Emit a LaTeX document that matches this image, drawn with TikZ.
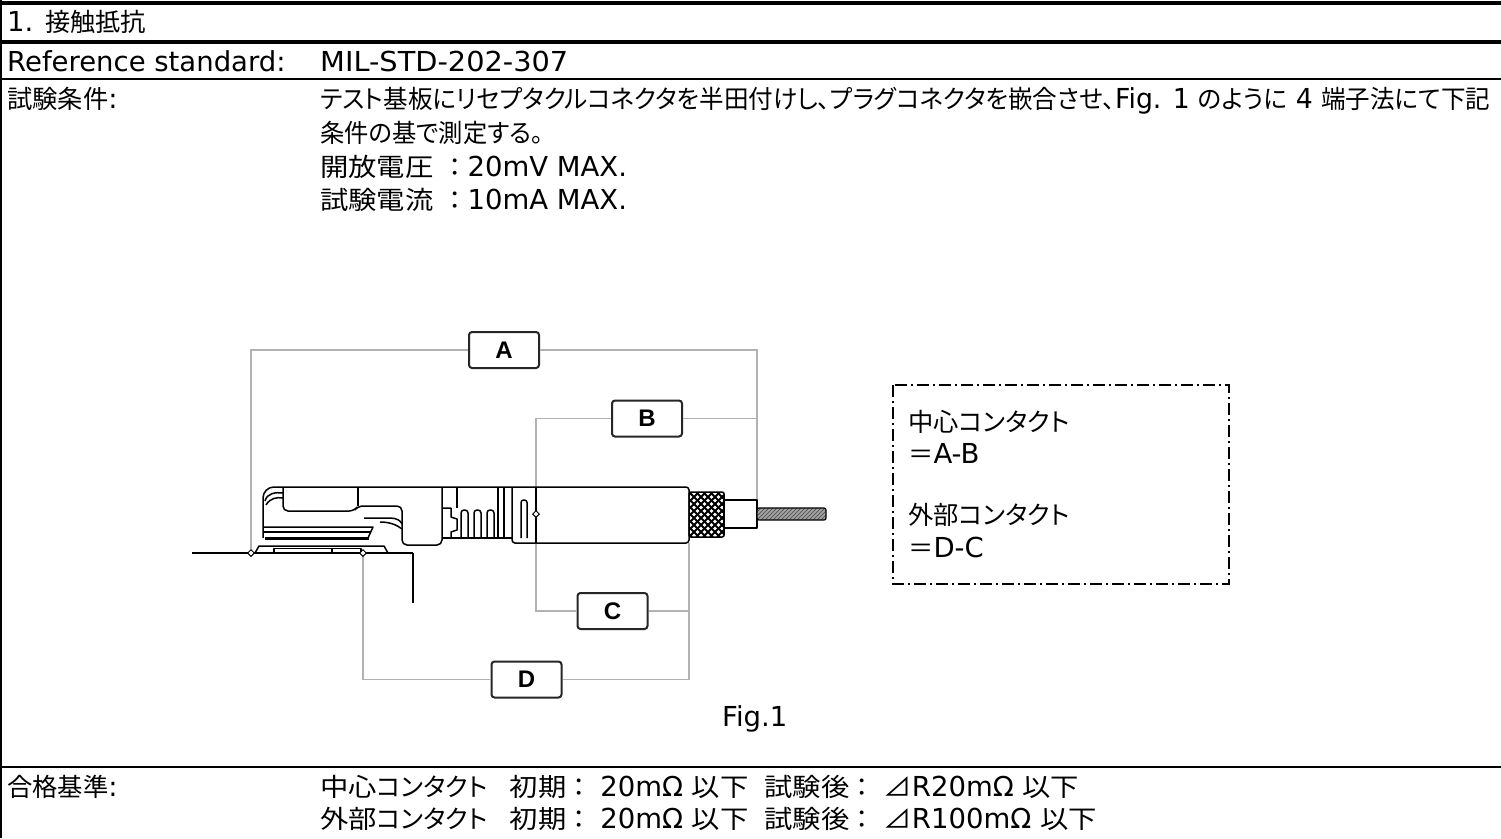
\documentclass[tikz,border=0pt]{standalone}
\usepackage{fontspec}
\usepackage{graphicx}
\usetikzlibrary{shapes.geometric}
\setmainfont{DejaVu Sans}
\newfontfamily\jp{Noto Sans CJK JP}[Scale=0.92,RawFeature=+palt]
\newfontfamily\jk{Noto Sans CJK JP}[Scale=0.92,FakeStretch=1.12]
\newfontfamily\jf{Noto Sans CJK JP}[Scale=0.92]
\newfontfamily\lab{Liberation Sans}
\newcommand{\fitto}[2]{\resizebox{#1}{\height}{#2}}
\begin{document}
\begin{tikzpicture}[x=1pt,y=-1pt,
  gline/.style={draw=black!30, line width=1.6pt},
  cline/.style={draw=black, line width=1.5pt, line join=round},
  mbox/.style={draw=black!85, line width=2pt, rounded corners=3pt, fill=white, minimum width=70pt, minimum height=36pt, inner sep=0pt, font=\lab\bfseries\fontsize{24}{24}\selectfont},
  txt/.style={anchor=base west, inner sep=0pt, font=\fontsize{27.5}{33}\selectfont},
  dmd/.style={diamond, draw=black, line width=1pt, fill=white, inner sep=0pt, minimum size=7pt},
  ddbox/.style={draw=black, line width=2pt, dash pattern=on 12pt off 4pt on 2pt off 4pt}
]
\useasboundingbox (0,0) rectangle (1501,838);
\fill[white] (0,0) rectangle (1501,838);

% table rules
\draw[line width=4pt] (0,3) -- (1501,3);
\draw[line width=4pt] (0,42) -- (1501,42);
\draw[line width=2.5pt] (0,79) -- (1501,79);
\draw[line width=2.5pt] (0,767) -- (1501,767);
\draw[line width=2pt] (1,0) -- (1,838);

% header rows
\node[txt] (title) at (7,31) {1. {\jp 接触抵抗}};
\node[txt] (refl) at (7,71) {Reference standard:};
\node[txt] (refv) at (320,71) {\fitto{248pt}{MIL-STD-202-307}};
\node[txt] (condl) at (7,108) {{\jp 試験条件}:};
\node[txt] (c1) at (320,108) {\fitto{1170pt}{{\jp テスト基板にリセプタクルコネクタを半田付けし、プラグコネクタを嵌合させ、}Fig. 1 {\jp のように} 4 {\jp 端子法にて下記}}};
\node[txt] (c2) at (320,142) {\fitto{223pt}{\jp 条件の基で測定する。}};
\node[txt] (c3) at (320,176) {{\jk 開放電圧} {\jf ：}20mV MAX.};
\node[txt] (c4) at (320,209) {{\jk 試験電流} {\jf ：}10mA MAX.};

% pass criteria
\node[txt] (passl) at (7,796) {{\jp 合格基準}:};
\node[txt] (p1) at (320,796) {{\jk 中心}{\jp コンタクト}\hspace{22pt}{\jk 初期}{\jf ：} 20mΩ {\jk 以下}\hspace{16pt}{\jk 試験後}{\jf ：} {\jk ⊿}R20mΩ {\jk 以下}};
\node[txt] (p2) at (320,828) {{\jk 外部}{\jp コンタクト}\hspace{22pt}{\jk 初期}{\jf ：} 20mΩ {\jk 以下}\hspace{16pt}{\jk 試験後}{\jf ：} {\jk ⊿}R100mΩ {\jk 以下}};

\node[txt] (fig) at (722,726) {Fig.1};

% legend box
\draw[ddbox] (893,385) rectangle (1229,584);
\node[txt] (l1) at (908,431) {{\jp 中心コンタクト}};
\node[txt] (l2) at (908,463) {{\jf ＝}A-B};
\node[txt] (l3) at (908,524) {{\jp 外部コンタクト}};
\node[txt] (l4) at (908,557) {{\jf ＝}D-C};

% meter boxes
\node[mbox] (A) at (504,350) {A};
\node[mbox] (B) at (647,418.5) {B};
\node[mbox] (C) at (612.5,611) {C};
\node[mbox] (D) at (526.5,679.5) {D};

\coordinate (pA) at (251,553);
\coordinate (pD) at (363,553);
\coordinate (pB) at (536,514);
\coordinate (jtop) at (757,500);
\coordinate (bodyBR) at (689,543);
\coordinate (cB) at (536,611);
\coordinate (dR) at (689,679.5);

% grey wiring
\draw[gline] (A.west) -| (pA);
\draw[gline] (A.east) -| (jtop);
\draw[gline] (B.east) -- (B.east -| jtop);
\draw[gline] (B.west) -| (cB) -- (C.west);
\draw[gline] (C.east) -- (C.east -| bodyBR);
\draw[gline] (bodyBR) -- (dR) -- (D.east);
\draw[gline] (D.west) -| (pD);

% board
\draw[cline] (192,553) -- (413,553);
\draw[line width=2pt] (413,553) -- (413,603);
% receptacle base
\draw[cline] (255,553) -- (259,546) -- (384,546) -- (388,553);
\draw[cline] (274,553) -- (274,548.5) -- (361,548.5) -- (361,553);
\draw[cline] (332,548.5) -- (332,553);
% gasket
\draw[cline] (263,527) -- (373,527) -- (368,538) -- (266,538);
\draw[cline] (263,532) -- (371,532);
\draw[line width=2.6pt] (265,538.5) -- (369,538.5);
% plug outline
\draw[cline] (263,538) [rounded corners=11pt] -- (263,487) [rounded corners=3pt] -- (689,487) -- (689,543) -- (512,543) -- (512,487);
% inner shape
\draw[cline, rounded corners=5pt] (283,487) -- (283,511) -- (354,511) -- (358,506) -- (402,506) -- (402,545) -- (442,545) -- (442,487);
\draw[cline] (358,487) -- (358,506);
\draw[cline] (265,501) .. controls (267,493) and (276,492) .. (283,493);
\draw[cline] (266,505) .. controls (270,498) and (277,497) .. (283,498);
\draw[cline] (364,518) -- (390,518) .. controls (397,518) and (401,521) .. (402,524);
\draw[cline] (380,522) .. controls (390,522) and (397,525) .. (402,529);
% spring fingers
\draw[cline] (442,538) -- (512,538);
\draw[cline] (442,508) -- (451,508) -- (451,517) -- (457,519) -- (457,530) -- (451,532) -- (451,538);
\draw[cline] (457,487) -- (457,508);
\foreach \fx in {461,474,487} \draw[cline, rounded corners=3pt] (\fx,538) -- (\fx,510) -- (\fx+7,510) -- (\fx+7,538);
\draw[cline] (498,487) -- (498,538);
\draw[cline] (504,487) -- (504,538);
\draw[cline, rounded corners=2.5pt] (521,538) -- (521,500) -- (527,500) -- (527,538);
\draw[cline] (536,487) -- (536,543);
% knurl
\begin{scope}
\clip (689,492) rectangle (724,537);
\foreach \k in {-49,-42,...,35} {
  \draw[line width=2pt] (689+\k,492) -- ++(45,45);
  \draw[line width=2pt] (689+\k,537) -- ++(45,-45);
}
\end{scope}
\draw[cline, rounded corners=2pt] (689,492) rectangle (724,537);
% jacket and cable
\draw[cline] (724,500) rectangle (757,528);
\fill[black!35] (757,508) rectangle (826,520);
\begin{scope}
\clip (757,508) rectangle (826,520);
\foreach \k in {-12,-8,...,72} \draw[black!65, line width=0.8pt] (757+\k,520) -- ++(12,-12);
\end{scope}
\draw[line width=1.2pt, rounded corners=2pt] (757,508) rectangle (826,520);

% contact points
\node[dmd] (dA) at (pA) {};
\node[dmd] (dD) at (pD) {};
\node[dmd] (dB) at (pB) {};
\end{tikzpicture}
\end{document}
